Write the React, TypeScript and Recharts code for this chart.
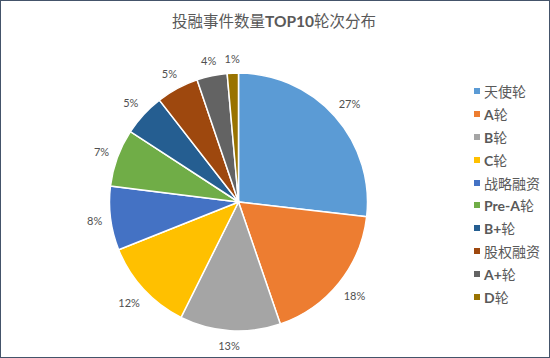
import React from "react";
import { PieChart, Pie, Cell, Legend } from "recharts";

const rounds = ["天使轮", "A轮", "B轮", "C轮", "战略融资", "Pre-A轮", "B+轮", "股权融资", "A+轮", "D轮"];
const shares = [26.8, 17.9, 12.6, 11.6, 8.0, 7.2, 5.3, 5.3, 3.8, 1.4];
const colors = ["#5B9BD5", "#ED7D31", "#A5A5A5", "#FFC000", "#4472C4", "#70AD47", "#255E91", "#9E480E", "#636363", "#997300"];

const data = rounds.map((name, i) => ({ name, value: shares[i] }));

const latinFont = "Lato, 'Noto Sans', sans-serif";
const cjkFont = "'Noto Sans CJK SC', sans-serif";

// latin bits show up bold in the original, cjk stays regular
function Runs({ text }: { text: string }) {
	const parts = text.match(/[\x00-\x7f]+|[^\x00-\x7f]+/g) || [];
	return (
		<>
			{parts.map((p, i) =>
				/^[\x00-\x7f]+$/.test(p) ? (
					<span key={i} style={{ fontFamily: latinFont, fontWeight: 700 }}>{p}</span>
				) : (
					<span key={i} style={{ fontFamily: cjkFont }}>{p}</span>
				)
			)}
		</>
	);
}

const renderLabel = (props: any) => {
	const { cx, cy, midAngle, outerRadius, percent } = props;
	const text = `${Math.round(percent * 100)}%`;
	const rad = (-midAngle * Math.PI) / 180;
	const cos = Math.cos(rad);
	const sin = Math.sin(rad);
	const w = text.length * 6.3;
	const h = 11;
	const dist = outerRadius + 9 + (Math.abs(cos) * w) / 2 + (Math.abs(sin) * h) / 2;
	return (
		<text
			x={cx + dist * cos}
			y={cy + dist * sin}
			textAnchor="middle"
			dominantBaseline="central"
			fill="#505050"
			fontSize={11}
			fontFamily={latinFont}
		>
			{text}
		</text>
	);
};

const renderLegend = (props: any) => {
	// keep the data order, not the alphabetical one
	const payload = [...(props.payload || [])].sort(
		(a: any, b: any) => rounds.indexOf(a.value) - rounds.indexOf(b.value)
	);
	return (
		<div>
			{payload.map((entry: any, i: number) => (
				<div key={i} style={{ height: 22.8, display: "flex", alignItems: "center", color: "#595959", fontSize: 14 }}>
					<span style={{ width: 6, height: 6, background: entry.color, display: "inline-block", marginRight: 4 }} />
					<span style={{ whiteSpace: "nowrap" }}>
						<Runs text={entry.value} />
					</span>
				</div>
			))}
		</div>
	);
};

export default function App() {
	return (
		<div
			style={{
				position: "absolute",
				left: 0,
				top: 0,
				width: 550,
				height: 358,
				boxSizing: "border-box",
				border: "1px solid #44546A",
				background: "#fff",
			}}
		>
			<div
				style={{
					position: "absolute",
					left: 0,
					top: 8,
					width: 546,
					textAlign: "center",
					fontSize: 15.5,
					color: "#595959",
					lineHeight: "22px",
				}}
			>
				<Runs text="投融事件数量TOP10轮次分布" />
			</div>
			<PieChart width={548} height={356}>
				<Pie
					data={data}
					dataKey="value"
					nameKey="name"
					cx={232.5}
					cy={196}
					outerRadius={129}
					startAngle={90}
					endAngle={-270}
					stroke="#fff"
					strokeWidth={1.5}
					label={renderLabel}
					labelLine={false}
					isAnimationActive={false}
				>
					{data.map((d, i) => (
						<Cell key={d.name} fill={colors[i]} />
					))}
				</Pie>
				<Legend
					layout="vertical"
					content={renderLegend}
					wrapperStyle={{ position: "absolute", left: 473, top: 79, width: 75 }}
				/>
			</PieChart>
		</div>
	);
}
